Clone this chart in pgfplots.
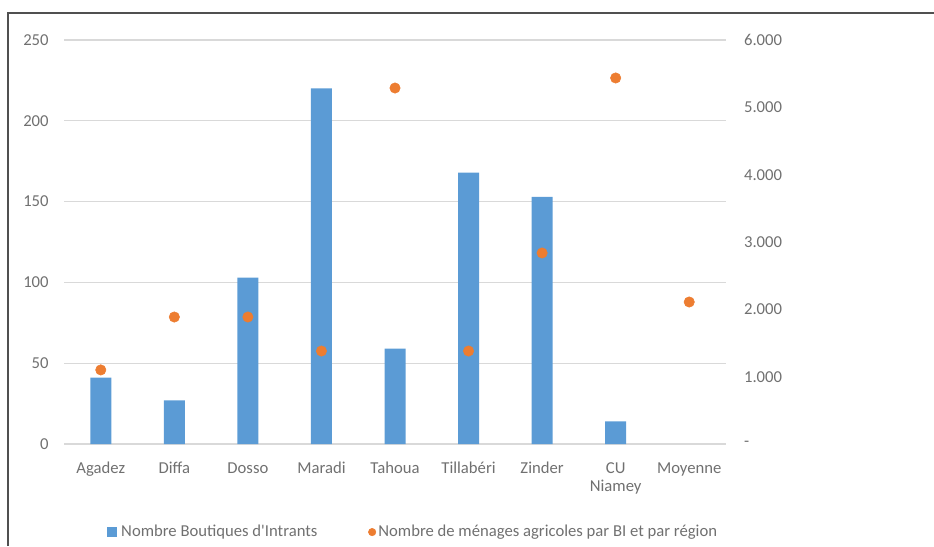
\documentclass[border=0pt]{standalone}
\usepackage{pgfplots}
\pgfplotsset{compat=1.18}
\usepackage{fontspec}
\setmainfont{Carlito}
\definecolor{barblue}{HTML}{5B9BD5}
\definecolor{dotorange}{HTML}{ED7D31}
\definecolor{txtgray}{HTML}{707070}
\definecolor{gridgray}{HTML}{D9D9D9}
\definecolor{framegray}{HTML}{505050}
\begin{document}
\begin{tikzpicture}[x=0.75pt,y=0.75pt]
\useasboundingbox (0,0) rectangle (934,546);
\draw[framegray, line width=1.1pt] (8,0) -- (8,533) -- (934,533);
\pgfplotsset{
  common/.style={
    at={(48pt,76.5pt)}, anchor=south west,
    scale only axis, width=496.5pt, height=303pt,
    xmin=-0.5, xmax=8.5,
    axis line style={draw=none},
    tick style={draw=none},
    tick label style={font=\fontsize{12.5}{14}\selectfont, text=txtgray},
    /pgf/number format/assume math mode=true,
  }
}
\begin{axis}[common,
  ymin=0, ymax=250, ytick={0,50,...,250},
  ymajorgrids, major grid style={gridgray, line width=0.8pt},
  xtick={0,...,8},
  xticklabels={Agadez,Diffa,Dosso,Maradi,Tahoua,Tillabéri,Zinder,{CU\\Niamey},Moyenne},
  xticklabel style={align=center, yshift=-6pt},
  yticklabel style={xshift=-8pt},
  ybar, bar width=15.75pt,
]
\addplot[fill=barblue, draw=none] coordinates {
(0,41) (1,27) (2,103) (3,220) (4,59) (5,168) (6,153) (7,14)};
\end{axis}
\begin{axis}[common,
  axis y line*=right, axis x line=none,
  ymin=0, ymax=6000, ytick={0,1000,...,6000},
  yticklabels={-,1.000,2.000,3.000,4.000,5.000,6.000},
  yticklabel style={xshift=10pt, anchor=west},
  legend columns=2,
  legend style={draw=none, fill=none, at={(0.527,-0.218)}, anchor=center,
    font=\fontsize{12.5}{14}\selectfont, text=txtgray,
    /tikz/every even column/.append style={column sep=37pt},
    inner sep=0pt, nodes={inner sep=1pt}},
]
\addlegendimage{legend image code/.code={\fill[barblue] (0pt,-3.3pt) rectangle (6.6pt,3.3pt); \path (9pt,0pt);}}
\addlegendentry{Nombre Boutiques d\textquotesingle Intrants}
\addplot[only marks, mark=*, color=dotorange, mark size=3.9pt,
  mark options={solid, fill=dotorange, draw=dotorange},
  legend image code/.code={\fill[dotorange] (3pt,0pt) circle (2.8pt); \path (6.5pt,0pt);}]
coordinates {
(0,1100) (1,1886) (2,1886) (3,1381) (4,5287) (5,1381) (6,2837) (7,5436) (8,2109)};
\addlegendentry{Nombre de ménages agricoles par BI et par région}
\end{axis}
\end{tikzpicture}
\end{document}
